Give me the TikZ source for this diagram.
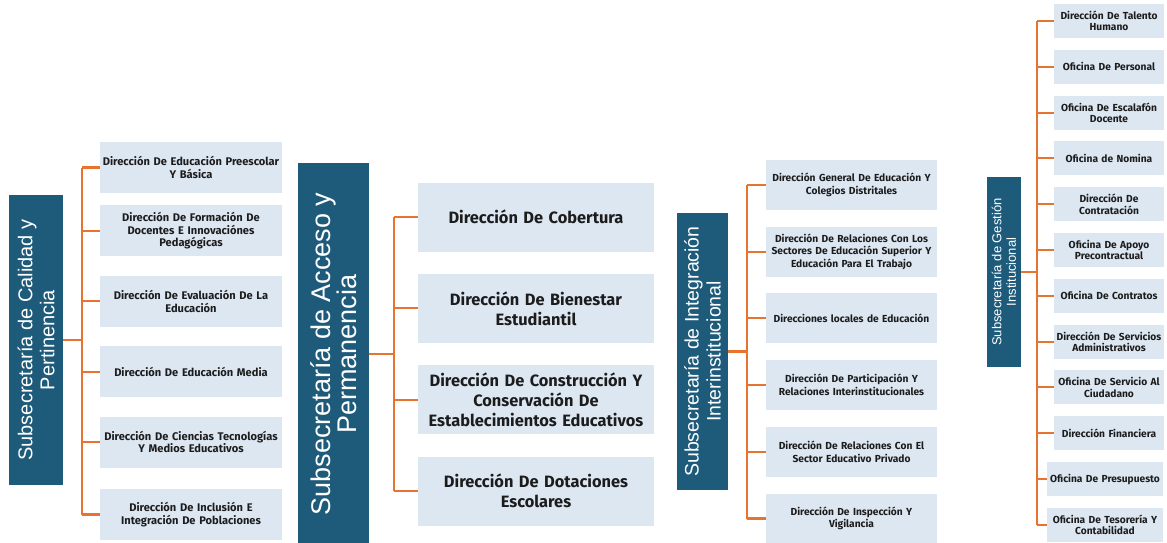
\documentclass[tikz,border=0pt]{standalone}
\usepackage{fontspec}
\usepackage{xcolor}
\usepackage{tikz}
\usetikzlibrary{positioning}
\setmainfont{Fira Sans}
\newfontfamily\titlefont{Liberation Sans}
\definecolor{subblue}{HTML}{1E5B7B}
\definecolor{dirfill}{HTML}{DDE7F2}
\definecolor{linkorange}{HTML}{E8732E}
\definecolor{dirtext}{HTML}{1C1C1C}

\begin{document}
\begin{tikzpicture}[x=1pt, y=-1pt,
		subnode/.style={rectangle, fill=subblue, text=white, rotate=90, align=center, inner sep=0pt},
		dirnode/.style={rectangle, fill=dirfill, text=dirtext, align=center, inner xsep=1pt, inner ysep=0pt},
		dirA/.style={dirnode, text width=180pt, minimum height=51pt, font=\bfseries\fontsize{11.1}{12.6}\selectfont},
		dirB/.style={dirnode, text width=232pt, inner xsep=2pt, minimum height=69pt, font=\bfseries\fontsize{16.4}{20}\selectfont},
		dirC/.style={dirnode, text width=169pt, minimum height=50pt, font=\bfseries\fontsize{10.2}{12.6}\selectfont},
		dirD/.style={dirnode, text width=108pt, minimum height=34pt, font=\bfseries\fontsize{10.2}{11.4}\selectfont},
		link/.style={linkorange, line width=2.1pt},
		stub/.style={linkorange, line width=2.8pt},
	]
		\useasboundingbox (0,0) rectangle (1167,542);

		% subsecretarias
		\node[subnode, minimum width=290pt, minimum height=54pt, font=\titlefont\fontsize{20}{22}\selectfont] (cal) at (36,340) {Subsecretaría de Calidad y\\Pertinencia};
		\node[subnode, minimum width=382pt, minimum height=71pt, font=\titlefont\fontsize{27}{26}\selectfont] (acc) at (333.5,354) {Subsecretaría de Acceso y\\Permanencia};
		\node[subnode, minimum width=277pt, minimum height=51pt, font=\titlefont\fontsize{19.5}{22}\selectfont] (int) at (702.5,351.5) {Subsecretaría de Integración\\Interinstitucional};
		\node[subnode, minimum width=190pt, minimum height=34pt, font=\titlefont\fontsize{13}{14.5}\selectfont] (ges) at (1004,272) {Subsecretaría de Gestión\\Institucional};

		% calidad y pertinencia
		\node[dirA] (cal1) at (191,167.5)		{Dirección De Educación Preescolar\\Y Básica};
		\node[dirA] (cal2) [below=12pt of cal1]	{Dirección De Formación De\\Docentes E Innovaciónes\\Pedagógicas};
		\node[dirA] (cal3) [below=19pt of cal2]	{Dirección De Evaluación De La\\Educación};
		\node[dirA] (cal4) [below=19pt of cal3]	{Dirección De Educación Media};
		\node[dirA] (cal5) [below=19pt of cal4]	{Dirección De Ciencias Tecnologías\\Y Medios Educativos};
		\node[dirA] (cal6) [below=21pt of cal5]	{Dirección De Inclusión E\\Integración De Poblaciones};

		% acceso y permanencia
		\node[dirB] (acc1) at (536,217)			{Dirección De Cobertura};
		\node[dirB] (acc2) [below=22pt of acc1]	{Dirección De Bienestar\\Estudiantil};
		\node[dirB] (acc3) [below=22pt of acc2]	{Dirección De Construcción Y\\Conservación De\\Establecimientos Educativos};
		\node[dirB] (acc4) [below=22pt of acc3]	{Dirección De Dotaciones\\Escolares};

		% integracion interinstitucional
		\node[dirC] (int1) at (851.5,185)			{Dirección General De Educación Y\\Colegios Distritales};
		\node[dirC] (int2) [below=16.3pt of int1]	{Dirección De Relaciones Con Los\\Sectores De Educación Superior Y\\Educación Para El Trabajo};
		\node[dirC] (int3) [below=16.3pt of int2]	{Direcciones locales de Educación};
		\node[dirC] (int4) [below=16.3pt of int3]	{Dirección De Participación Y\\Relaciones Interinstitucionales};
		\node[dirC] (int5) [below=16.3pt of int4]	{Dirección De Relaciones Con El\\Sector Educativo Privado};
		\node[dirC] (int6) [below=16.3pt of int5]	{Dirección De Inspección Y\\Vigilancia};

		% gestion institucional
		\node[dirD] (ges1) at (1109,21)				{Dirección De Talento\\Humano};
		\node[dirD] (ges2) [below=11.4pt of ges1]	{Oficina De Personal};
		\node[dirD] (ges3) [below=11.4pt of ges2]	{Oficina De Escalafón\\Docente};
		\node[dirD] (ges4) [below=11.4pt of ges3]	{Oficina de Nomina};
		\node[dirD] (ges5) [below=11.4pt of ges4]	{Dirección De\\Contratación};
		\node[dirD] (ges6) [below=11.4pt of ges5]	{Oficina De Apoyo\\Precontractual};
		\node[dirD] (ges7) [below=11.4pt of ges6]	{Oficina De Contratos};
		\node[dirD] (ges8) [below=11.4pt of ges7]	{Dirección De Servicios\\Administrativos};
		\node[dirD] (ges9) [below=11.4pt of ges8]	{Oficina De Servicio Al\\Ciudadano};
		\node[dirD] (ges10) [below=11.4pt of ges9]	{Dirección Financiera};
		\node[dirD, text width=114pt] (ges11) [below=11.4pt of ges10, xshift=-4pt]	{Oficina De Presupuesto};
		\node[dirD, text width=114pt] (ges12) [below=11.4pt of ges11]	{Oficina De Tesorería Y\\Contabilidad};

		% lines
		\draw[stub] (cal.south) -- ++(19,0) coordinate (busA);
		\draw[link] (busA |- cal1.west) -- (busA |- cal6.west);
		\foreach \n in {cal1,cal2,cal3,cal4,cal5,cal6}
			\draw[link] (busA |- \n.west) -- (\n.west);

		\draw[stub] (acc.south) -- ++(25,0) coordinate (busB);
		\draw[link] (busB |- acc1.west) -- (busB |- acc4.west);
		\foreach \n in {acc1,acc2,acc3,acc4}
			\draw[link] (busB |- \n.west) -- (\n.west);

		\draw[stub] (int.south) -- ++(19,0) coordinate (busC);
		\draw[link] (busC |- int1.west) -- (busC |- int6.west);
		\foreach \n in {int1,int2,int3,int4,int5,int6}
			\draw[link] (busC |- \n.west) -- (\n.west);

		\draw[stub] (ges.south) -- ++(16,0) coordinate (busD);
		\draw[link] (busD |- ges1.west) -- (busD |- ges12.west);
		\foreach \n in {ges1,ges2,ges3,ges4,ges5,ges6,ges7,ges8,ges9,ges10,ges11,ges12}
			\draw[link] (busD |- \n.west) -- (\n.west);
	\end{tikzpicture}
\end{document}
